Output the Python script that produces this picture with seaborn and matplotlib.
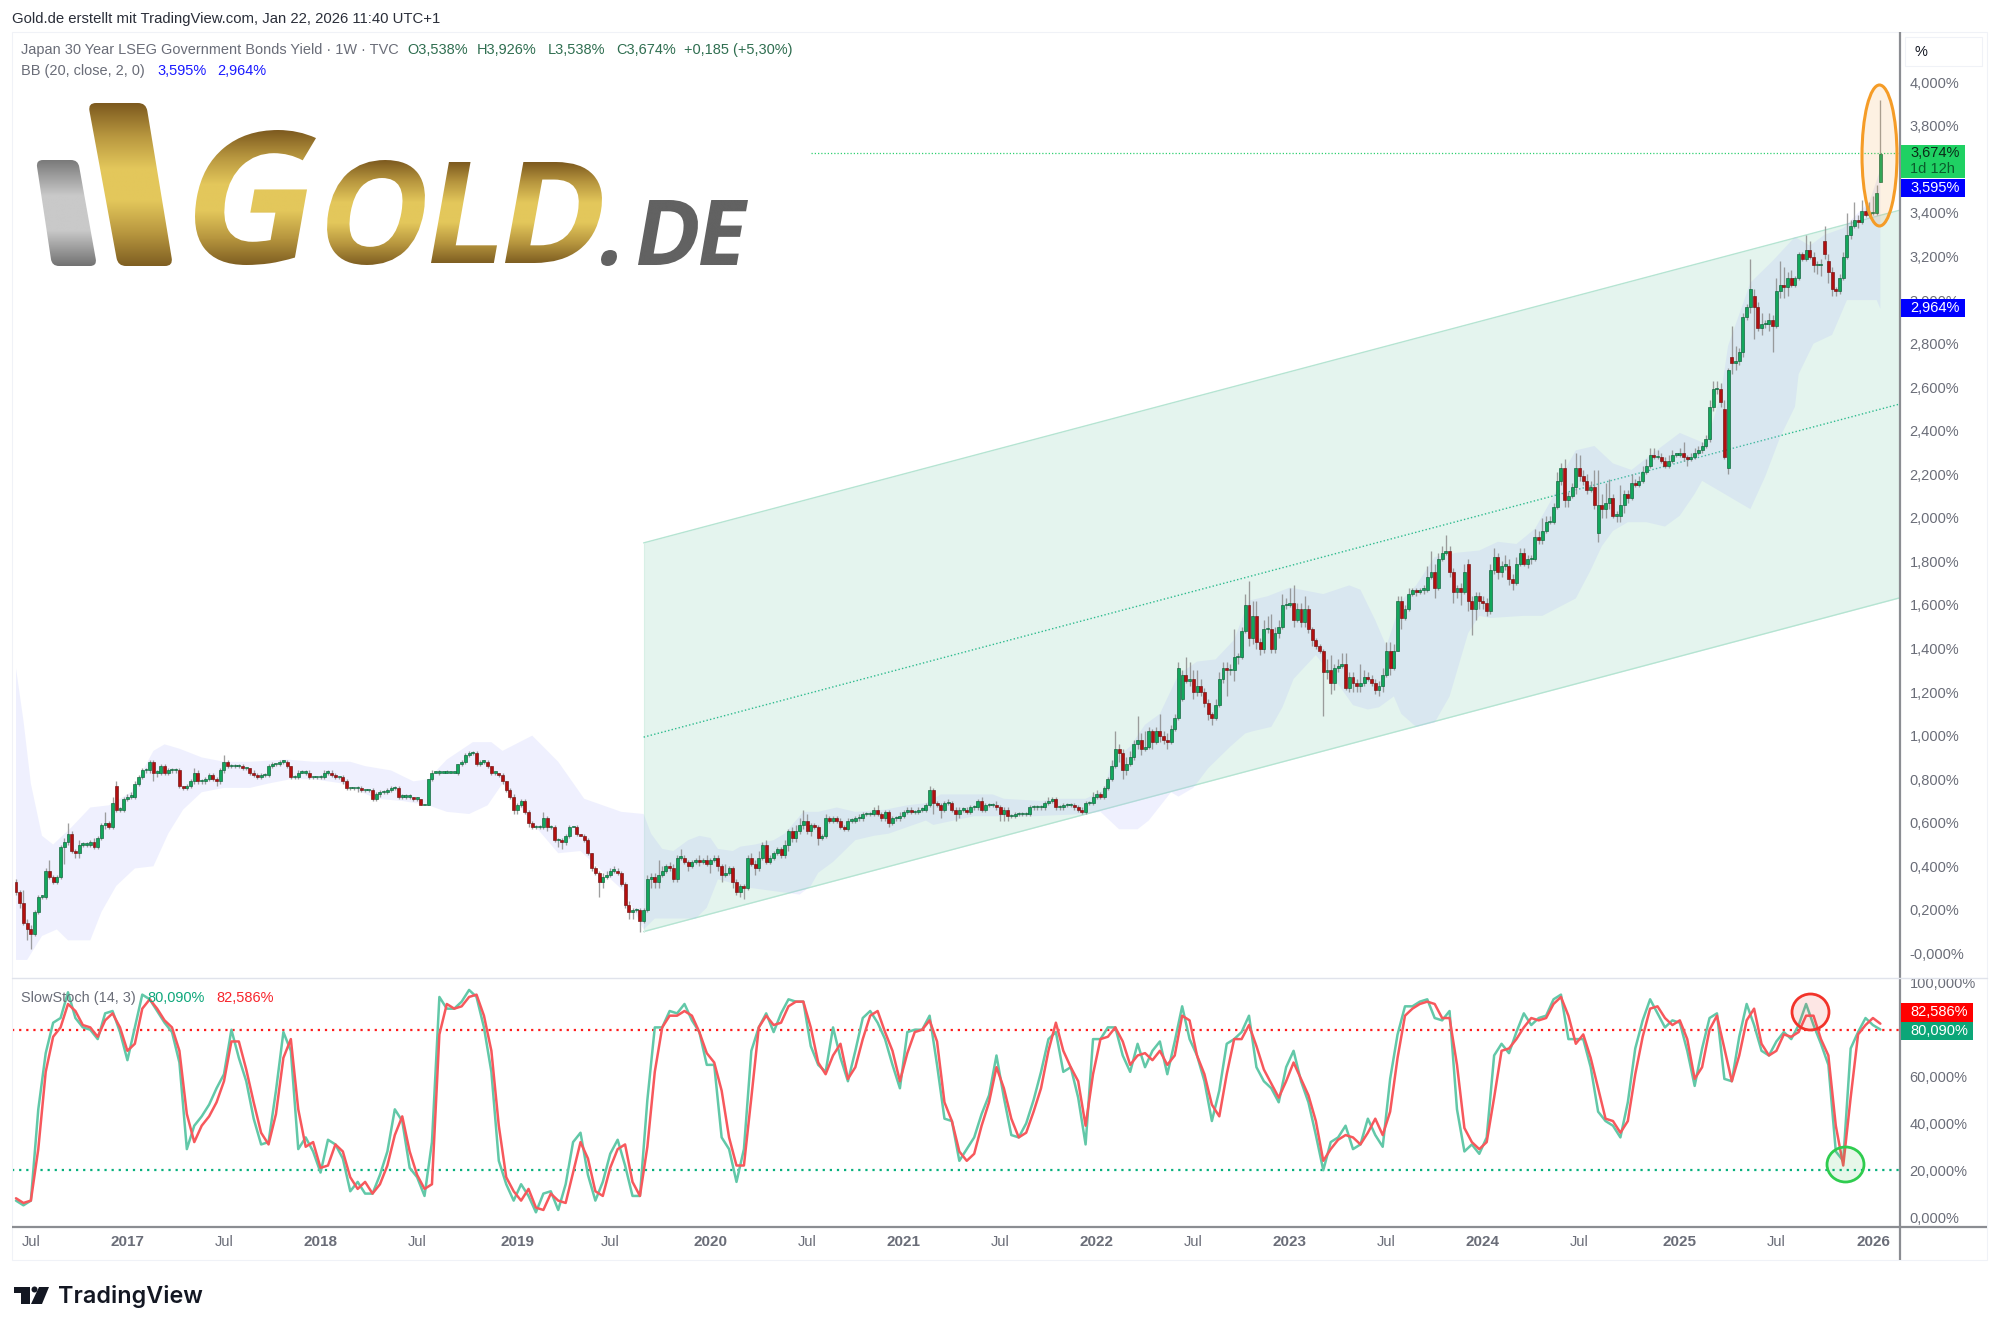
#!/usr/bin/env python
# coding: utf-8
import matplotlib
matplotlib.use("Agg")
import matplotlib.pyplot as plt
import numpy as np
import pandas as pd
import seaborn as sns
from matplotlib.colors import LinearSegmentedColormap
from matplotlib.font_manager import FontProperties
from matplotlib.patches import Circle, Ellipse, PathPatch, Polygon, Rectangle
from matplotlib.path import Path
from matplotlib.textpath import TextPath
from matplotlib.transforms import Affine2D

W, H = 1999, 1332

# weekly closes in hundredths of a percent, first candle is 2016-06-06
CLOSE_BP = [
    28, 23, 14, 11, 9, 19, 26, 26, 38, 35, 33, 35, 49, 51, 55, 47, 46, 50, 50, 50,
    51, 49, 53, 59, 60, 58, 69, 66, 66, 71, 72, 72, 78, 81, 84, 84, 88, 83, 83, 86,
    83, 84, 84, 84, 77, 76, 77, 79, 83, 79, 79, 80, 82, 80, 79, 84, 88, 86, 86, 86,
    86, 85, 85, 83, 82, 81, 82, 82, 86, 87, 87, 88, 88, 86, 81, 81, 83, 83, 83, 81,
    81, 81, 81, 83, 83, 82, 81, 81, 79, 76, 76, 76, 76, 75, 75, 75, 71, 73, 74, 74,
    75, 76, 76, 72, 72, 72, 72, 71, 71, 68, 68, 80, 83, 83, 83, 83, 83, 83, 83, 87,
    88, 91, 92, 92, 87, 88, 88, 86, 83, 83, 82, 79, 75, 72, 66, 68, 70, 65, 60, 58,
    58, 58, 62, 58, 58, 52, 52, 51, 54, 58, 58, 55, 54, 52, 46, 39, 37, 33, 35, 36,
    38, 38, 37, 32, 22, 19, 20, 20, 15, 20, 34, 35, 33, 36, 38, 40, 39, 34, 44, 44,
    42, 40, 42, 43, 42, 43, 41, 43, 44, 40, 36, 37, 39, 33, 28, 31, 30, 44, 41, 39,
    44, 50, 42, 44, 46, 48, 45, 50, 56, 53, 56, 59, 61, 56, 59, 58, 53, 54, 62, 61,
    62, 61, 58, 57, 61, 61, 62, 62, 64, 64, 64, 66, 64, 62, 65, 60, 62, 62, 63, 65,
    66, 65, 65, 66, 66, 68, 75, 69, 68, 66, 69, 69, 66, 64, 66, 66, 65, 67, 67, 70,
    66, 68, 68, 68, 67, 64, 66, 63, 63, 64, 64, 64, 64, 67, 67, 67, 67, 69, 70, 71,
    67, 67, 68, 68, 68, 67, 66, 65, 69, 69, 72, 73, 72, 76, 80, 86, 94, 92, 84, 87,
    90, 96, 98, 94, 95, 102, 97, 102, 100, 98, 97, 103, 108, 131, 128, 125, 126, 120, 123, 120,
    115, 110, 108, 114, 126, 131, 130, 130, 136, 136, 148, 160, 145, 155, 143, 140, 149, 149, 140, 147,
    150, 160, 160, 161, 153, 158, 152, 158, 149, 144, 141, 139, 129, 130, 124, 131, 132, 133, 122, 127,
    124, 123, 124, 127, 126, 124, 121, 123, 128, 139, 131, 139, 162, 154, 158, 165, 167, 166, 167, 167,
    173, 175, 168, 181, 184, 185, 175, 166, 168, 166, 175, 162, 158, 164, 162, 161, 157, 176, 182, 175,
    178, 178, 172, 170, 179, 184, 179, 181, 181, 191, 190, 194, 198, 198, 205, 217, 223, 208, 210, 214,
    223, 219, 217, 213, 214, 206, 206, 204, 207, 209, 201, 201, 206, 211, 209, 216, 215, 217, 221, 224,
    229, 228, 228, 226, 224, 226, 229, 229, 230, 228, 227, 228, 230, 231, 233, 236, 251, 259, 259, 253,
    228, 268, 271, 272, 276, 292, 297, 305, 297, 287, 289, 289, 291, 288, 304, 307, 306, 310, 307, 310,
    321, 319, 323, 320, 316, 316, 316, 321, 313, 305, 304, 310, 320, 330, 334, 337, 336, 341, 339, 340,
    340, 349, 367,
]
# wick above the body, same unit
WICK_UP_BP = [
    1, 1, 6, 2, 2, 1, 1, 1, 1, 5, 1, 1, 1, 2, 5, 1, 1, 2, 1, 1,
    1, 2, 1, 1, 5, 1, 3, 2, 1, 1, 1, 2, 1, 1, 1, 1, 1, 1, 1, 1,
    1, 1, 1, 1, 1, 0, 1, 1, 2, 1, 1, 1, 1, 1, 1, 1, 3, 1, 1, 1,
    1, 1, 0, 0, 1, 1, 1, 1, 1, 1, 0, 1, 1, 1, 0, 1, 1, 1, 1, 1,
    0, 0, 1, 1, 1, 1, 1, 0, 1, 1, 0, 0, 1, 1, 0, 0, 1, 1, 1, 1,
    1, 1, 1, 1, 1, 1, 1, 0, 1, 0, 0, 0, 1, 0, 1, 0, 1, 0, 0, 0,
    1, 1, 1, 1, 1, 1, 1, 1, 0, 0, 0, 1, 0, 1, 1, 1, 1, 1, 1, 1,
    1, 1, 3, 1, 1, 1, 1, 1, 1, 1, 0, 1, 0, 1, 1, 0, 1, 1, 2, 2,
    1, 2, 1, 1, 1, 2, 1, 1, 1, 1, 2, 2, 2, 7, 2, 1, 2, 2, 1, 4,
    1, 1, 1, 1, 2, 1, 2, 1, 1, 1, 1, 4, 1, 1, 1, 1, 1, 1, 2, 2,
    3, 1, 2, 1, 1, 1, 1, 2, 1, 2, 3, 3, 5, 3, 1, 1, 1, 1, 2, 1,
    1, 1, 1, 1, 1, 1, 1, 2, 1, 1, 1, 1, 2, 1, 1, 1, 1, 1, 2, 1,
    1, 1, 1, 1, 1, 1, 2, 1, 1, 1, 1, 2, 1, 1, 1, 1, 1, 1, 1, 1,
    2, 1, 1, 1, 2, 1, 1, 1, 1, 1, 1, 1, 1, 1, 1, 1, 1, 1, 2, 1,
    1, 1, 1, 1, 1, 1, 1, 1, 1, 1, 2, 2, 1, 1, 1, 3, 8, 2, 2, 3,
    3, 2, 11, 3, 7, 2, 1, 2, 8, 2, 3, 2, 2, 3, 2, 8, 8, 4, 7, 3,
    2, 2, 1, 3, 3, 3, 3, 3, 13, 2, 2, 5, 11, 7, 7, 2, 4, 6, 7, 3,
    3, 5, 3, 7, 8, 3, 3, 6, 2, 1, 1, 1, 1, 5, 7, 2, 3, 5, 5, 2,
    2, 2, 9, 3, 2, 2, 2, 2, 3, 4, 4, 3, 2, 2, 2, 3, 1, 1, 1, 2,
    5, 10, 4, 3, 3, 7, 2, 2, 1, 2, 4, 2, 2, 2, 2, 2, 2, 3, 4, 2,
    2, 5, 3, 2, 3, 2, 2, 2, 2, 4, 3, 6, 3, 3, 2, 4, 2, 4, 2, 2,
    7, 6, 3, 3, 3, 8, 16, 5, 9, 9, 2, 2, 9, 2, 2, 4, 2, 2, 3, 3,
    3, 3, 3, 2, 2, 3, 2, 1, 2, 5, 1, 2, 2, 2, 2, 2, 3, 4, 4, 3,
    4, 1, 14, 7, 2, 2, 1, 14, 3, 2, 5, 2, 3, 2, 6, 11, 8, 3, 4, 1,
    1, 1, 7, 4, 2, 2, 3, 7, 3, 2, 1, 2, 2, 10, 3, 8, 2, 5, 3, 5,
    8, 4, 25,
]
# wick below the body, same unit
WICK_DOWN_BP = [
    1, 2, 1, 5, 7, 1, 1, 1, 1, 1, 1, 1, 1, 8, 1, 1, 2, 2, 1, 1,
    1, 1, 1, 1, 2, 1, 1, 1, 1, 1, 1, 1, 1, 1, 1, 1, 1, 4, 2, 1,
    1, 1, 1, 1, 1, 1, 1, 1, 1, 1, 1, 1, 1, 1, 2, 1, 1, 1, 1, 1,
    1, 1, 1, 1, 1, 1, 1, 1, 1, 1, 1, 1, 1, 1, 1, 1, 1, 0, 1, 1,
    1, 1, 1, 1, 1, 1, 1, 1, 1, 1, 1, 1, 2, 1, 1, 1, 1, 1, 1, 1,
    1, 1, 1, 1, 1, 1, 1, 1, 1, 0, 0, 0, 1, 0, 1, 0, 0, 0, 0, 1,
    1, 1, 1, 1, 1, 1, 1, 1, 1, 1, 1, 1, 1, 1, 2, 2, 1, 1, 2, 1,
    1, 1, 1, 2, 1, 1, 3, 3, 1, 1, 0, 1, 0, 1, 1, 1, 1, 7, 3, 1,
    1, 1, 1, 1, 1, 3, 3, 1, 5, 1, 1, 4, 3, 3, 1, 1, 1, 1, 1, 1,
    1, 2, 1, 1, 2, 1, 1, 4, 1, 2, 3, 1, 1, 3, 1, 2, 5, 1, 1, 3,
    1, 1, 1, 1, 1, 1, 1, 1, 3, 2, 2, 1, 2, 1, 2, 1, 3, 1, 1, 1,
    1, 1, 1, 1, 1, 1, 1, 1, 1, 1, 1, 1, 1, 1, 1, 2, 1, 1, 1, 1,
    1, 1, 1, 1, 1, 1, 1, 5, 1, 4, 1, 1, 1, 3, 2, 1, 1, 1, 1, 1,
    1, 1, 1, 1, 1, 3, 3, 2, 1, 1, 1, 1, 1, 1, 1, 1, 1, 1, 1, 1,
    1, 1, 1, 1, 1, 1, 1, 1, 1, 1, 1, 1, 1, 1, 1, 1, 1, 4, 4, 2,
    1, 1, 2, 3, 1, 1, 3, 1, 3, 2, 3, 1, 1, 1, 1, 1, 2, 3, 2, 2,
    2, 3, 3, 1, 1, 2, 12, 2, 5, 3, 1, 1, 4, 3, 3, 3, 2, 2, 2, 2,
    2, 1, 2, 1, 3, 1, 2, 2, 2, 3, 1, 1, 20, 3, 5, 3, 2, 1, 1, 2,
    4, 3, 3, 1, 1, 1, 2, 3, 3, 1, 3, 1, 0, 5, 1, 1, 1, 2, 1, 2,
    1, 1, 5, 1, 1, 1, 2, 5, 3, 6, 1, 5, 12, 5, 4, 3, 2, 1, 2, 3,
    2, 2, 3, 3, 1, 1, 1, 2, 2, 1, 2, 2, 1, 1, 1, 1, 2, 3, 3, 1,
    3, 2, 2, 2, 1, 2, 4, 4, 4, 3, 1, 3, 3, 4, 2, 1, 1, 1, 1, 1,
    1, 1, 1, 1, 1, 1, 1, 1, 1, 2, 3, 1, 1, 1, 1, 1, 1, 2, 2, 2,
    1, 3, 5, 3, 2, 2, 1, 3, 15, 1, 3, 2, 3, 12, 1, 3, 5, 4, 1, 1,
    1, 1, 1, 1, 3, 4, 5, 2, 5, 3, 2, 1, 1, 1, 2, 1, 3, 1, 1, 1,
    1, 1, 0,
]
# candles that opened away from the previous close
GAP_WEEK = [27, 314, 391, 426, 460, 461, 462, 468, 487, 488, 502]
GAP_OPEN_BP = [77, 117, 179, 193, 250, 223, 274, 302, 327, 318, 354]

# Bollinger band outline, week number and value
BB_UP_WEEK = [
    0, 2, 4, 7, 10, 15, 20, 25, 31, 37, 40, 44, 50, 56, 63, 73, 80, 90, 94, 101, 107, 111, 116, 123, 128, 131,
    139, 146, 153, 163, 169, 171, 174, 177, 181, 184, 187, 189, 193, 195, 199, 204, 207, 212, 216, 221, 226,
    234, 240, 245, 249, 258, 263, 266, 276, 280, 288, 293, 295, 300, 304, 308, 313, 318, 323, 328, 332, 337,
    343, 352, 359, 362, 366, 369, 373, 377, 382, 388, 394, 399, 404, 409, 414, 418, 420, 425, 430, 435, 441,
    448, 455, 459, 461, 467, 473, 479, 483, 487, 492, 496, 499, 502,
]
BB_UP_BP = [
    131, 107, 78, 54, 50, 58, 67, 68, 74, 93, 96, 94, 90, 88, 88, 89, 88, 88, 86, 84, 79, 80, 89, 97, 97, 93,
    100, 88, 71, 65, 64, 55, 48, 47, 52, 54, 53, 48, 47, 49, 50, 52, 55, 65, 65, 67, 65,
    66, 68, 69, 73, 73, 73, 71, 70, 71, 71, 75, 88, 95, 105, 110, 128, 134, 135, 144, 162, 164,
    168, 165, 169, 167, 153, 141, 162, 169, 182, 184, 185, 189, 188, 195, 210, 225, 231, 233, 225, 222, 230,
    239, 234, 256, 279, 308, 318, 329, 325, 330, 333, 340, 345, 360,
]
BB_LOW_WEEK = [
    0, 3, 7, 11, 14, 20, 23, 27, 32, 37, 41, 45, 50, 56, 63, 68, 74, 80, 88, 97, 104, 111, 116, 122, 127, 131,
    138, 146, 152, 157, 164, 169, 172, 183, 186, 189, 198, 211, 214, 216, 220, 226, 231, 235, 240, 245, 247,
    258, 274, 288, 292, 297, 302, 305, 311, 313, 317, 321, 327, 331, 333, 338, 341, 344, 350, 355, 360, 364,
    367, 371, 373, 377, 382, 386, 391, 394, 397, 406, 411, 420, 424, 427, 430, 434, 439, 444, 448, 452, 454,
    460, 463, 467, 471, 475, 479, 480, 484, 489, 493, 497, 501, 502,
]
BB_LOW_BP = [
    -3, -3, 8, 11, 6, 6, 19, 31, 39, 40, 55, 66, 74, 76, 76, 78, 80, 80, 78, 71, 70, 68, 65, 64, 68, 78,
    62, 46, 47, 39, 28, 11, 16, 16, 21, 34, 30, 27, 31, 37, 42, 52, 54, 55, 58, 61, 59,
    63, 63, 64, 65, 57, 57, 61, 74, 72, 76, 85, 95, 101, 102, 104, 113, 126, 137, 126, 114, 112,
    113, 118, 110, 104, 106, 118, 147, 155, 154, 155, 155, 163, 176, 187, 194, 198, 198, 196, 201, 211, 217,
    211, 208, 204, 219, 237, 251, 266, 280, 284, 300, 300, 300, 296,
]

# regression channel, start and end value
CHANNEL_START_WEEK = 169
CHANNEL_UPPER = [1.885, 3.413]
CHANNEL_MID = [0.993, 2.523]
CHANNEL_LOWER = [0.100, 1.633]
LAST_PRICE = 3.674

# slow stochastic, one reading every second week
STOCH_K = [
    7, 5, 7, 46, 70, 83, 85, 96, 85, 81, 80, 76, 87, 88, 79, 67, 81, 95, 93, 88,
    83, 79, 66, 29, 39, 43, 48, 55, 61, 80, 68, 58, 42, 31, 32, 54, 79, 71, 29, 34,
    28, 19, 33, 31, 25, 11, 15, 10, 10, 18, 28, 46, 41, 21, 17, 9, 32, 94, 89, 89,
    92, 97, 94, 81, 62, 24, 14, 7, 14, 9, 2, 10, 11, 3, 14, 32, 36, 18, 7, 15,
    27, 33, 22, 9, 9, 50, 81, 81, 88, 87, 91, 84, 79, 65, 65, 34, 29, 15, 29, 71,
    81, 87, 79, 87, 93, 92, 92, 73, 65, 62, 81, 68, 58, 71, 85, 88, 83, 76, 65, 55,
    79, 80, 80, 86, 65, 42, 41, 24, 29, 34, 44, 52, 69, 51, 35, 34, 40, 50, 62, 76,
    79, 62, 64, 51, 31, 76, 76, 81, 81, 69, 62, 74, 64, 71, 75, 61, 75, 90, 76, 69,
    58, 41, 54, 74, 76, 79, 86, 64, 58, 55, 49, 64, 71, 58, 49, 35, 20, 32, 34, 39,
    29, 31, 42, 35, 30, 59, 78, 90, 90, 92, 93, 85, 84, 88, 46, 28, 31, 27, 34, 69,
    74, 70, 79, 87, 82, 85, 86, 93, 95, 76, 76, 76, 64, 45, 41, 39, 34, 49, 72, 84,
    93, 87, 81, 84, 83, 71, 56, 72, 85, 87, 59, 58, 77, 91, 82, 71, 69, 75, 79, 76,
    82, 91, 82, 74, 65, 28, 24, 72, 79, 85, 82, 80.09,
]
STOCH_D = [
    8, 6, 7, 29, 62, 77, 81, 91, 88, 82, 81, 77, 84, 87, 81, 71, 74, 89, 93, 89,
    84, 81, 71, 44, 32, 39, 43, 49, 58, 75, 75, 63, 49, 36, 31, 44, 68, 76, 46, 30,
    32, 21, 22, 31, 28, 17, 12, 15, 10, 14, 22, 35, 43, 28, 18, 12, 14, 78, 91, 89,
    90, 94, 95, 86, 71, 39, 17, 11, 7, 12, 4, 3, 10, 7, 6, 19, 32, 25, 11, 9,
    21, 29, 31, 15, 9, 30, 62, 81, 86, 86, 88, 86, 79, 70, 66, 54, 34, 22, 22, 51,
    81, 86, 82, 83, 90, 92, 92, 81, 66, 61, 69, 74, 59, 64, 76, 86, 88, 79, 71, 58,
    70, 79, 80, 84, 75, 49, 41, 28, 24, 27, 39, 49, 64, 55, 42, 34, 36, 45, 55, 71,
    83, 71, 64, 58, 39, 61, 76, 77, 81, 75, 65, 69, 70, 67, 71, 65, 69, 86, 84, 69,
    61, 48, 43, 61, 76, 76, 82, 73, 63, 57, 51, 58, 66, 59, 52, 41, 24, 29, 33, 35,
    34, 31, 36, 42, 35, 45, 68, 86, 89, 91, 92, 91, 85, 85, 65, 38, 32, 29, 32, 51,
    71, 72, 76, 81, 85, 84, 85, 91, 94, 86, 74, 78, 68, 55, 42, 41, 36, 41, 61, 77,
    89, 90, 85, 82, 84, 76, 59, 64, 80, 86, 72, 58, 69, 84, 89, 74, 69, 71, 78, 77,
    79, 86, 86, 76, 69, 39, 22, 51, 78, 82, 85, 82.586,
]

# 3,600 sits fully behind the price tags in the reference
PRICE_TICKS = [0.0, 0.2, 0.4, 0.6, 0.8, 1.0, 1.2, 1.4, 1.6, 1.8, 2.0, 2.2, 2.4, 2.6, 2.8, 3.0, 3.2, 3.4, 3.8, 4.0]
STOCH_TICKS = [0, 20, 40, 60, 80, 100]
TIME_TICKS = ["2016-07-04", "2017-01-02", "2017-07-03", "2018-01-01", "2018-07-02", "2019-01-07", "2019-07-01",
              "2020-01-06", "2020-07-06", "2021-01-04", "2021-07-05", "2022-01-03", "2022-07-04", "2023-01-02",
              "2023-07-03", "2024-01-01", "2024-07-01", "2025-01-06", "2025-07-07", "2026-01-05"]
TIME_LABELS = ["Jul", "2017", "Jul", "2018", "Jul", "2019", "Jul", "2020", "Jul", "2021", "Jul", "2022", "Jul",
               "2023", "Jul", "2024", "Jul", "2025", "Jul", "2026"]

GREEN_UP = "#12a75c"
RED_DOWN = "#b30f0f"
GREY_TEXT = "#6a6d78"
K_COLOR = "#62c8a8"
D_COLOR = "#f7585c"
TAG_SIZE = 10.5
LEGEND_SIZE = 10.45


def make_candles() -> pd.DataFrame:
    close = pd.Series(CLOSE_BP, dtype=float) / 100
    df = pd.DataFrame({"close": close})
    df["date"] = pd.date_range("2016-06-06", periods=len(df), freq="7D")
    df["open"] = close.shift(1).fillna(0.33)
    df.loc[GAP_WEEK, "open"] = np.array(GAP_OPEN_BP) / 100
    df["high"] = df[["open", "close"]].max(axis=1) + np.array(WICK_UP_BP) / 100
    df["low"] = df[["open", "close"]].min(axis=1) - np.array(WICK_DOWN_BP) / 100
    return df


def draw_price(ax, df, x_right):
    start = df["date"].iloc[CHANNEL_START_WEEK]
    ax.fill_between([start, x_right], CHANNEL_LOWER, CHANNEL_UPPER, color="#e4f4ee", lw=0, zorder=1)
    ax.plot([start, x_right], CHANNEL_UPPER, color="#b5e4d2", lw=1.0, zorder=1.5)
    ax.plot([start, x_right], CHANNEL_LOWER, color="#b5e4d2", lw=1.0, zorder=1.5)
    ax.plot([start, start], [CHANNEL_LOWER[0], CHANNEL_UPPER[0]], color="#d8f0e6", lw=0.8, zorder=1.5)
    ax.plot([start, x_right], CHANNEL_MID, color="#2dbb8e", lw=1.0, ls=(0, (1, 1.6)), zorder=1.5)

    up_x = df["date"].iloc[BB_UP_WEEK]
    low_x = df["date"].iloc[BB_LOW_WEEK]
    ax.fill(list(up_x) + list(low_x)[::-1],
            list(np.array(BB_UP_BP) / 100) + list(np.array(BB_LOW_BP)[::-1] / 100),
            color=(170 / 255, 178 / 255, 250 / 255), alpha=0.19, lw=0, zorder=2)

    ax.plot([df["date"].iloc[214], x_right], [LAST_PRICE, LAST_PRICE], color="#2fd070", lw=0.9,
            ls=(0, (1, 1.6)), zorder=2.5)

    ax.vlines(df["date"], df["low"], df["high"], color="#8d8d8d", lw=0.95, alpha=0.85, zorder=3)
    rising = df["close"] >= df["open"]
    for mask, fill, edge in [(rising, GREEN_UP, "#0d5f38"), (~rising, RED_DOWN, "#6f1414")]:
        part = df[mask]
        ax.bar(part["date"], (part["close"] - part["open"]).abs().clip(lower=0.006),
               bottom=part[["open", "close"]].min(axis=1), width=5.6,
               color=fill, edgecolor=edge, linewidth=0.45, zorder=4)


def draw_stoch(ax, df):
    dates = df["date"].iloc[::2].reset_index(drop=True)
    stoch = pd.DataFrame({"date": dates, "K": STOCH_K, "D": STOCH_D}).melt("date", var_name="line", value_name="value")
    sns.lineplot(data=stoch, x="date", y="value", hue="line", hue_order=["K", "D"],
                 palette={"K": K_COLOR, "D": D_COLOR}, lw=1.8, legend=False, errorbar=None, ax=ax, zorder=3)
    ax.axhline(80, color="#ff1a1a", lw=1.6, ls=(0, (1, 2.2)), zorder=2)
    ax.axhline(20, color="#06b07d", lw=1.6, ls=(0, (1, 2.2)), zorder=2)


def rounded_poly(points, r):
    pts = np.array(points, dtype=float)
    verts, codes = [], []
    n = len(pts)
    for k in range(n):
        p, prev, nxt = pts[k], pts[k - 1], pts[(k + 1) % n]
        a = p + (prev - p) / np.linalg.norm(prev - p) * r
        b = p + (nxt - p) / np.linalg.norm(nxt - p) * r
        verts += [a, p, b]
        codes += [Path.MOVETO if k == 0 else Path.LINETO, Path.CURVE3, Path.CURVE3]
    verts.append(verts[0])
    codes.append(Path.CLOSEPOLY)
    return Path(verts, codes)


def gradient_fill(ov, path, box, cmap):
    x0, y0, x1, y1 = box
    patch = PathPatch(path, fc="none", ec="none", transform=ov.transData)
    ov.add_patch(patch)
    grad = np.linspace(0, 1, 128)[:, None]
    im = ov.imshow(grad, extent=(x0, x1, y1, y0), aspect="auto", cmap=cmap, zorder=5, interpolation="bilinear")
    im.set_clip_path(patch)


def glyph(ov, ch, box, cmap, font):
    x0, y0, x1, y1 = box
    tp = TextPath((0, 0), ch, size=100, prop=font).transformed(Affine2D().skew_deg(10, 0))
    bb = tp.get_extents()
    fit = (Affine2D().translate(-bb.x0, -bb.y1)
           .scale((x1 - x0) / bb.width, -(y1 - y0) / bb.height).translate(x0, y0))
    gradient_fill(ov, tp.transformed(fit), box, cmap)


def draw_logo(ov):
    gold = LinearSegmentedColormap.from_list("gold", ["#7d5a1f", "#b8973f", "#e3c75b", "#e3c75b", "#b8973f", "#7f5f22"])
    silver = LinearSegmentedColormap.from_list("silver", ["#7a7a7a", "#c9c9c9", "#c9c9c9", "#727272"])
    grey = LinearSegmentedColormap.from_list("grey", ["#626262", "#626262"])
    font = FontProperties(family="Open Sans", weight="bold")
    gradient_fill(ov, rounded_poly([(36, 160), (78, 160), (97, 266), (52, 266)], 7), (36, 160, 97, 266), silver)
    gradient_fill(ov, rounded_poly([(88, 103), (146, 103), (173, 266), (118, 266)], 8), (88, 103, 173, 266), gold)
    glyph(ov, "G", (195, 130, 316, 265), gold, font)
    glyph(ov, "O", (327, 160, 425, 265), gold, font)
    glyph(ov, "L", (431, 162, 497, 263), gold, font)
    glyph(ov, "D", (505, 162, 602, 263), gold, font)
    glyph(ov, ".", (601, 250, 617, 266), grey, font)
    glyph(ov, "D", (638, 200, 698, 265), grey, font)
    glyph(ov, "E", (700, 200, 748, 265), grey, font)


def draw_tv_mark(ov):
    ov.add_patch(Polygon([(14, 1287), (30, 1287), (30, 1304), (21, 1304), (21, 1293), (14, 1293)], fc="#131722", ec="none"))
    ov.add_patch(Circle((34.5, 1289.5), 3, fc="#131722", ec="none"))
    ov.add_patch(Polygon([(39, 1287), (49, 1287), (42, 1304), (31, 1304)], fc="#131722", ec="none"))
    ov.text(58, 1296, "TradingView", fontsize=16.8, fontfamily="Inter", fontweight="semibold", color="#131722", va="center")


def tag(ov, y0, y1, right, fill, label, color):
    ov.add_patch(Rectangle((1901, y0), right - 1901, y1 - y0, fc=fill, ec="none", zorder=6))
    ov.text(1910, (y0 + y1) / 2, label, fontsize=TAG_SIZE, color=color, va="center", zorder=7)


def draw_overlay(ov):
    ov.add_patch(Rectangle((12, 32), 1975, 1228, fc="none", ec="#f0f2f7", lw=0.8))
    ov.add_patch(Rectangle((1905, 37), 77, 29, fc="white", ec="#f0f2f7", lw=0.8))
    ov.text(1915, 52, "%", fontsize=10.5, color="#131722", va="center")
    ov.plot([1900, 1900], [32, 1260], color="#8b8d92", lw=1.6, solid_capstyle="butt")
    ov.plot([12, 1987], [1227, 1227], color="#8b8d92", lw=1.6, solid_capstyle="butt")
    ov.plot([12, 1987], [978, 978], color="#e0e3eb", lw=1.0)

    ov.text(12, 19, "Gold.de erstellt mit TradingView.com, Jan 22, 2026 11:40 UTC+1", fontsize=10.7, color="#2a2e39", va="center")
    ov.text(21, 50, "Japan 30 Year LSEG Government Bonds Yield · 1W · TVC", fontsize=LEGEND_SIZE, color=GREY_TEXT, va="center")
    for x, s in zip([407, 477, 548, 616, 684], ["O3,538%", "H3,926%", "L3,538%", "C3,674%", "+0,185 (+5,30%)"]):
        ov.text(x, 50, s, fontsize=LEGEND_SIZE, color="#2f6e50", va="center")
    ov.text(21, 71, "BB (20, close, 2, 0)", fontsize=LEGEND_SIZE, color=GREY_TEXT, va="center")
    for x, s in zip([157, 217], ["3,595%", "2,964%"]):
        ov.text(x, 71, s, fontsize=LEGEND_SIZE, color="#1a1aff", va="center")
    ov.text(21, 998, "SlowStoch (14, 3)", fontsize=LEGEND_SIZE, color=GREY_TEXT, va="center")
    ov.text(147, 998, "80,090%", fontsize=LEGEND_SIZE, color="#0ea77b", va="center")
    ov.text(216, 998, "82,586%", fontsize=LEGEND_SIZE, color="#f7252c", va="center")

    ov.add_patch(Rectangle((1901, 145), 64, 33, fc="#1fd163", ec="none", zorder=6))
    ov.text(1910, 153, "3,674%", fontsize=TAG_SIZE, color="#0b2b18", va="center", zorder=7)
    ov.text(1910, 169, "1d 12h", fontsize=TAG_SIZE, color="#0b5c2c", va="center", zorder=7)
    tag(ov, 179, 197, 1965, "#0000ff", "3,595%", "white")
    tag(ov, 299, 317, 1965, "#0000ff", "2,964%", "white")
    tag(ov, 1003, 1022, 1973, "#ff0000", "82,586%", "white")
    tag(ov, 1022, 1040, 1973, "#0ca678", "80,090%", "white")

    ov.add_patch(Ellipse((1879.5, 155.5), 35, 141, fc=(0.96, 0.62, 0.2, 0.14), ec="#f59c27", lw=2.2, zorder=5))
    ov.add_patch(Ellipse((1810.5, 1012), 37, 36, fc=(0.95, 0.2, 0.15, 0.12), ec="#f2332a", lw=2.0, zorder=5))
    ov.add_patch(Ellipse((1845.5, 1164.5), 37, 35, fc=(0.2, 0.75, 0.3, 0.12), ec="#2fcc4f", lw=2.0, zorder=5))


def main():
    sns.set_theme(style="white", rc={"axes.edgecolor": "#ffffff"})
    plt.rcParams["font.family"] = ["Liberation Sans", "DejaVu Sans"]

    df = make_candles()
    fig = plt.figure(figsize=(W / 100, H / 100), dpi=100, facecolor="white")
    ax_price = fig.add_axes([12 / W, 1 - 978 / H, 1888 / W, 946 / H])
    ax_stoch = fig.add_axes([12 / W, 1 - 1227 / H, 1888 / W, 249 / H])

    first = df["date"].iloc[0]
    x_left = first - pd.Timedelta(days=7.54)
    x_right = first + pd.Timedelta(days=3551)

    draw_price(ax_price, df, x_right)
    draw_stoch(ax_stoch, df)

    for ax in (ax_price, ax_stoch):
        ax.set_xlim(x_left, x_right)
        ax.set_xlabel("")
        ax.set_ylabel("")
        sns.despine(ax=ax, left=True, right=True, top=True, bottom=True)
        ax.yaxis.tick_right()
        ax.tick_params(axis="both", length=0, labelsize=10.5, labelcolor=GREY_TEXT)
        ax.tick_params(axis="y", pad=7)
        ax.patch.set_alpha(0)

    ax_price.set_ylim(-0.113, 4.231)
    ax_price.set_yticks(PRICE_TICKS)
    ax_price.set_yticklabels(["-0,000%"] + [f"{v:.3f}%".replace(".", ",") for v in PRICE_TICKS[1:]])
    ax_price.set_xticks([])

    ax_stoch.set_ylim(-4.27, 102.1)
    ax_stoch.set_yticks(STOCH_TICKS)
    ax_stoch.set_yticklabels([f"{v:.3f}%".replace(".", ",") for v in STOCH_TICKS], va="center_baseline")
    ax_stoch.set_xticks(pd.to_datetime(TIME_TICKS))
    ax_stoch.set_xticklabels(TIME_LABELS)
    ax_stoch.tick_params(axis="x", pad=6)
    for lab in ax_stoch.get_xticklabels():
        if lab.get_text() != "Jul":
            lab.set_fontweight("bold")
            lab.set_fontsize(11)

    ov = fig.add_axes([0, 0, 1, 1], zorder=10)
    ov.patch.set_alpha(0)
    draw_logo(ov)
    draw_tv_mark(ov)
    draw_overlay(ov)
    ov.set_xlim(0, W)
    ov.set_ylim(H, 0)
    ov.axis("off")

    fig.savefig("out.png", dpi=100)


if __name__ == "__main__":
    main()
